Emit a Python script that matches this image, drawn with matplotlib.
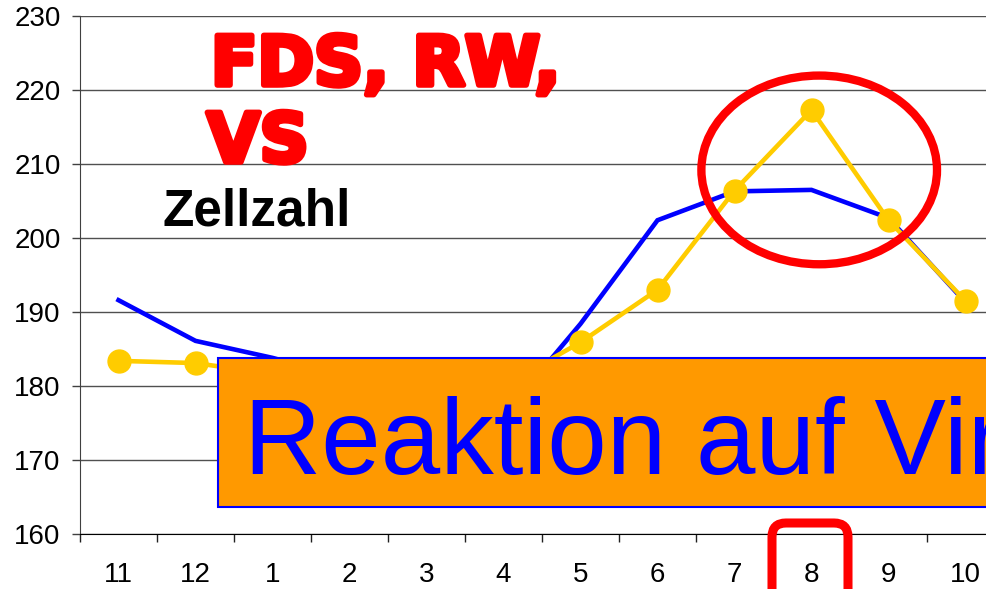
import matplotlib
matplotlib.use("Agg")
import matplotlib.pyplot as plt
import matplotlib.patheffects as pe
from matplotlib.patches import Ellipse, Rectangle, FancyBboxPatch
from matplotlib.transforms import IdentityTransform

# months, Nov .. Oct
months = ["11", "12", "1", "2", "3", "4", "5", "6", "7", "8", "9", "10"]
blue_vals = [191.6, 186.1, 183.8, 181.0, 178.0, 176.0, 188.4, 202.4, 206.3, 206.5, 202.7, 191.3]
yellow_vals = [183.4, 183.1, 181.6, 180.0, 179.0, 180.0, 185.9, 193.0, 206.4, 217.3, 202.4, 191.5]
y_ticks = [160, 170, 180, 190, 200, 210, 220, 230]

plt.rcParams['font.family'] = ['Liberation Sans', 'DejaVu Sans']

W, H = 986, 589
fig = plt.figure(figsize=(W / 100, H / 100), dpi=100)
ax = fig.add_axes([80 / W, (H - 534) / H, 924 / W, 518 / H])

x = list(range(len(months)))
ax.plot(x, blue_vals, color="#0000ff", lw=3.3, zorder=3, solid_joinstyle="miter")
ax.plot(x, yellow_vals, color="#ffcc00", lw=3.3, marker="o", ms=16.5, zorder=4)

ax.set_xlim(-0.5, len(months) - 0.5)
ax.set_ylim(160, 230)
ax.set_yticks(y_ticks)
ax.yaxis.grid(True, color="#505050", lw=1)
ax.set_axisbelow(True)
ax.tick_params(axis="y", labelsize=20, length=6, width=1, color="#404040", pad=8)

# ticks between months, labels centred under each month
ax.set_xticks([i - 0.5 for i in x])
ax.set_xticklabels([])
ax.set_xticks(x, minor=True)
ax.set_xticklabels(months, minor=True)
ax.tick_params(axis="x", which="major", length=6, width=1, color="#202020")
ax.tick_params(axis="x", which="minor", length=0, labelsize=20, pad=20)

for s in ["top", "right"]:
    ax.spines[s].set_visible(False)
ax.spines["left"].set_color("#404040")
ax.spines["bottom"].set_color("#000000")

# red circle round the August peak
ax.add_patch(Ellipse((9.1, 209.2), 3.06, 25.5, fill=False, ec="#ff0000", lw=6, clip_on=False, zorder=6))

# headline texts
heavy = [pe.withStroke(linewidth=4, foreground="#ff0000")]
fig.text(211 / W, (H - 85) / H, "FDS, RW,", color="#ff0000", fontsize=49, fontweight="bold",
         family="DejaVu Sans", va="baseline", path_effects=heavy)
fig.text(207 / W, (H - 162) / H, "VS", color="#ff0000", fontsize=49, fontweight="bold",
         family="DejaVu Sans", va="baseline", path_effects=heavy)
fig.text(162 / W, (H - 225) / H, "Zellzahl", color="black", fontsize=37, fontweight="bold",
         va="baseline")

# orange banner, runs off the right edge
fig.add_artist(Rectangle((218 / W, (H - 507) / H), 1.0, 149 / H, transform=fig.transFigure,
                         fc="#ff9900", ec="#0000ff", lw=1.5, zorder=10))
fig.text(244 / W, (H - 474) / H, "Reaktion auf Viren", color="#0000ff", fontsize=77,
         va="baseline", zorder=11)

# red frame round the month label 8
fig.add_artist(FancyBboxPatch((772, -30), 76, 96, boxstyle="round,pad=0,rounding_size=14",
                              transform=IdentityTransform(), fill=False, ec="#ff0000", lw=6.5,
                              zorder=12))

fig.savefig("out.png", dpi=100)
